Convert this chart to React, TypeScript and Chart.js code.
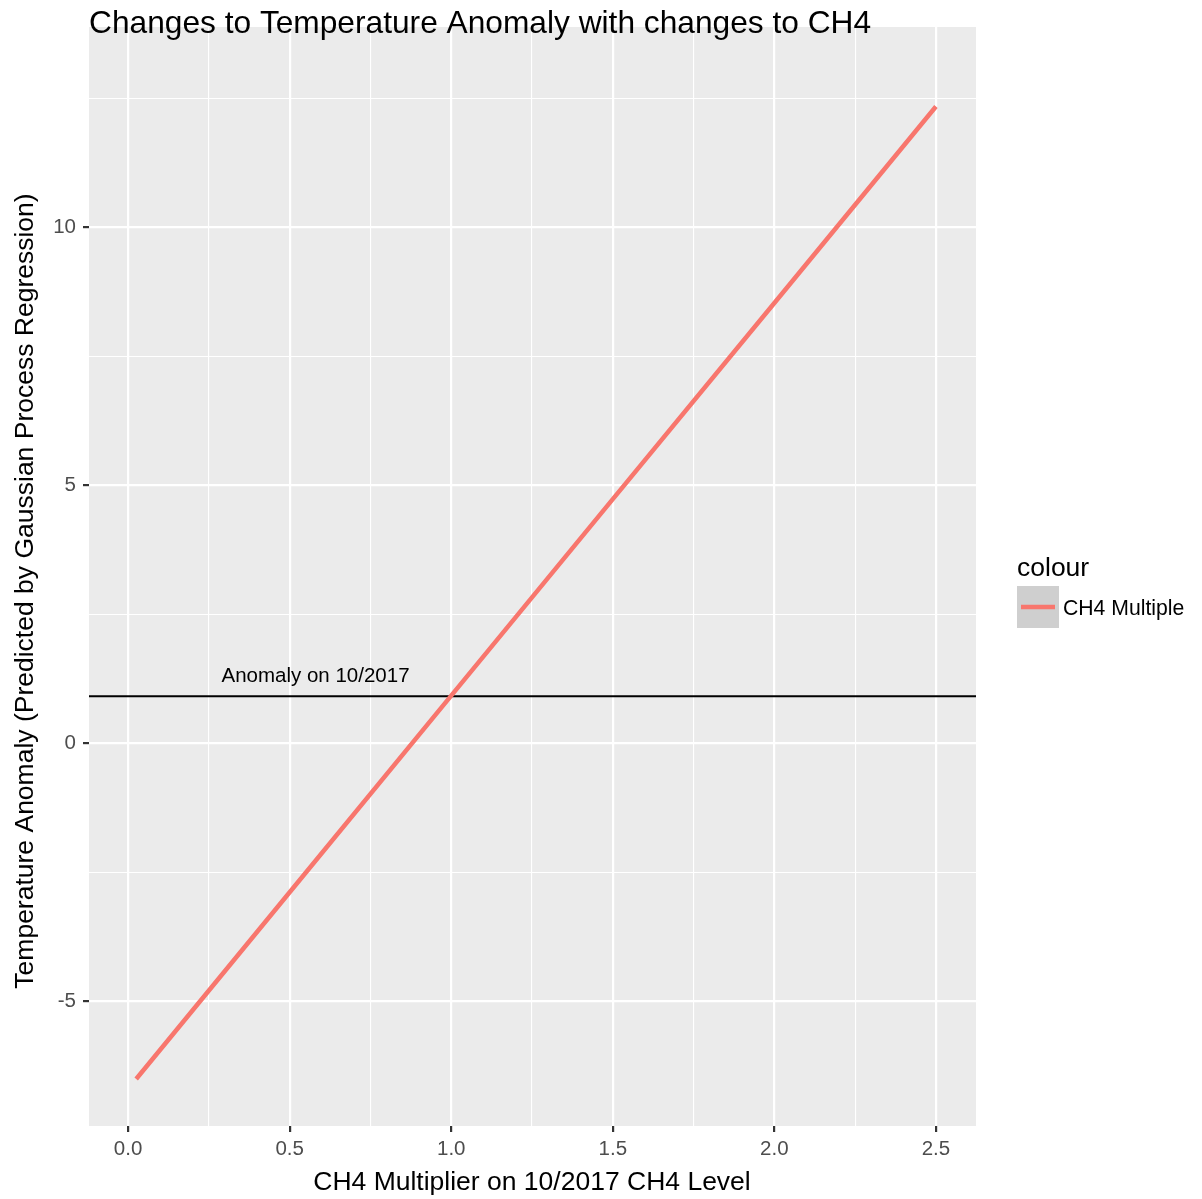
import React, { useEffect, useRef } from 'react';
import { Chart, registerables } from 'chart.js';

Chart.register(...registerables);

// ---- data ----
const ch4Multiplier = [0.025, 0.5, 1.0, 1.5, 2.0, 2.5];
const tempAnomaly = [-6.51, -2.89, 0.92, 4.73, 8.53, 12.34];
const anomalyOct2017 = 0.91;
const xMajorTicks = [0, 0.5, 1.0, 1.5, 2.0, 2.5];
const xMinorTicks = [0.25, 0.75, 1.25, 1.75, 2.25];
const yMajorTicks = [-5, 0, 5, 10];
const yMinorTicks = [-2.5, 2.5, 7.5, 12.5];
const xRange = [-0.121, 2.624];
const yRange = [-7.42, 13.88];
const annotationLabel = 'Anomaly on 10/2017';
const annotationPos = { x: 0.58, y: 1.18 };
const titleText = 'Changes to Temperature Anomaly with changes to CH4';
const xTitle = 'CH4 Multiplier on 10/2017 CH4 Level';
const yTitle = 'Temperature Anomaly (Predicted by Gaussian Process Regression)';
const legendTitle = 'colour';
const seriesName = 'CH4 Multiple';

const FONT = '"Liberation Sans", Arial, Helvetica, sans-serif';
const RED = '#F8766D';

export default function App() {
  const ref = useRef<HTMLCanvasElement | null>(null);

  useEffect(() => {
    if (!ref.current) return;
    const isMajorX = (v: number) => xMajorTicks.some((t) => Math.abs(t - v) < 1e-9);
    const isMajorY = (v: number) => yMajorTicks.some((t) => Math.abs(t - v) < 1e-9);

    const ggPlugin = {
      id: 'ggDecor',
      beforeDraw(chart: any) {
        const { ctx, chartArea: a } = chart;
        ctx.save();
        ctx.fillStyle = '#ffffff';
        ctx.fillRect(0, 0, chart.width, chart.height);
        ctx.fillStyle = '#ebebeb';
        ctx.fillRect(a.left, a.top, a.right - a.left, a.bottom - a.top);
        ctx.restore();
      },
      afterDraw(chart: any) {
        const { ctx } = chart;
        const xs = chart.scales.x;
        const ys = chart.scales.y;
        ctx.save();
        // title
        ctx.fillStyle = '#000';
        ctx.font = `31.7px ${FONT}`;
        ctx.textAlign = 'left';
        ctx.textBaseline = 'alphabetic';
        ctx.fillText(titleText, 89, 33);
        // x title
        ctx.font = `26.5px ${FONT}`;
        ctx.textAlign = 'center';
        ctx.fillText(xTitle, 532, 1190);
        // y title
        ctx.save();
        ctx.translate(33, 591);
        ctx.rotate(-Math.PI / 2);
        ctx.fillText(yTitle, 0, 0);
        ctx.restore();
        // annotation
        ctx.font = `20.5px ${FONT}`;
        ctx.textAlign = 'center';
        ctx.fillText(
          annotationLabel,
          xs.getPixelForValue(annotationPos.x),
          ys.getPixelForValue(annotationPos.y)
        );
        // legend
        ctx.textAlign = 'left';
        ctx.font = `26.5px ${FONT}`;
        ctx.fillText(legendTitle, 1017, 576);
        ctx.fillStyle = '#cfcfcf';
        ctx.fillRect(1017, 586, 42, 42);
        ctx.strokeStyle = RED;
        ctx.lineWidth = 4.5;
        ctx.beginPath();
        ctx.moveTo(1021, 607);
        ctx.lineTo(1055, 607);
        ctx.stroke();
        ctx.fillStyle = '#000';
        ctx.font = `21.2px ${FONT}`;
        ctx.fillText(seriesName, 1063, 615);
        ctx.restore();
      },
    };

    const chart = new Chart(ref.current, {
      type: 'line',
      data: {
        datasets: [
          {
            label: seriesName,
            data: ch4Multiplier.map((x, i) => ({ x, y: tempAnomaly[i] })),
            borderColor: RED,
            borderWidth: 4.5,
            pointRadius: 0,
            tension: 0,
            fill: false,
          },
          {
            label: 'anomaly',
            data: [
              { x: xRange[0], y: anomalyOct2017 },
              { x: xRange[1], y: anomalyOct2017 },
            ],
            borderColor: '#000000',
            borderWidth: 1.9,
            pointRadius: 0,
            tension: 0,
            fill: false,
          },
        ],
      },
      options: {
        responsive: false,
        animation: false,
        devicePixelRatio: 1,
        layout: { padding: { left: 0, top: 27, right: 226, bottom: 0 } },
        plugins: {
          legend: { display: false },
          tooltip: { enabled: false },
          title: { display: false },
        },
        scales: {
          x: {
            type: 'linear',
            min: xRange[0],
            max: xRange[1],
            afterBuildTicks: (scale: any) => {
              scale.ticks = [...xMajorTicks, ...xMinorTicks]
                .sort((a, b) => a - b)
                .map((v) => ({ value: v }));
            },
            afterFit: (scale: any) => {
              scale.height = 73;
            },
            border: { display: false },
            grid: {
              color: '#ffffff',
              lineWidth: (c: any) => (isMajorX(c.tick.value) ? 2.2 : 1.1),
              drawTicks: true,
              tickLength: 6,
              tickWidth: 2.2,
              tickColor: (c: any) => (isMajorX(c.tick.value) ? '#333333' : 'rgba(0,0,0,0)'),
            },
            ticks: {
              autoSkip: false,
              maxRotation: 0,
              padding: 5,
              color: '#4d4d4d',
              font: { size: 20.5, family: FONT },
              callback: (v: any) => (isMajorX(Number(v)) ? Number(v).toFixed(1) : ''),
            },
          },
          y: {
            type: 'linear',
            min: yRange[0],
            max: yRange[1],
            afterBuildTicks: (scale: any) => {
              scale.ticks = [...yMajorTicks, ...yMinorTicks]
                .sort((a, b) => a - b)
                .map((v) => ({ value: v }));
            },
            afterFit: (scale: any) => {
              scale.width = 89;
            },
            border: { display: false },
            grid: {
              color: '#ffffff',
              lineWidth: (c: any) => (isMajorY(c.tick.value) ? 2.2 : 1.1),
              drawTicks: true,
              tickLength: 6,
              tickWidth: 2.2,
              tickColor: (c: any) => (isMajorY(c.tick.value) ? '#333333' : 'rgba(0,0,0,0)'),
            },
            ticks: {
              autoSkip: false,
              padding: 7,
              color: '#4d4d4d',
              font: { size: 20.5, family: FONT },
              callback: (v: any) => (isMajorY(Number(v)) ? String(Number(v)) : ''),
            },
          },
        },
      },
      plugins: [ggPlugin],
    });
    return () => chart.destroy();
  }, []);

  return (
    <div style={{ position: 'absolute', left: 0, top: 0, width: 1202, height: 1199 }}>
      <canvas ref={ref} width={1202} height={1199} style={{ width: 1202, height: 1199 }} />
    </div>
  );
}
